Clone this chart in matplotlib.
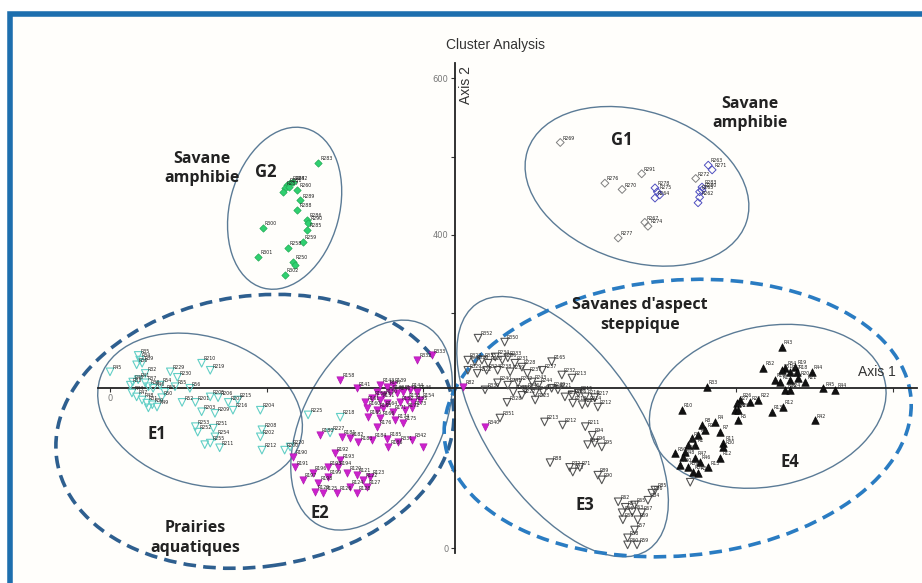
import matplotlib
matplotlib.use("Agg")
import matplotlib.pyplot as plt
from matplotlib.patches import Ellipse, Rectangle

# --- data (axis 1 / axis 2 scores) ---
g2_x = [266, 226, 230, 234, 223, 229, 221, 239, 243, 239, 252, 253, 252, 195, 246, 227, 189, 234, 236, 223]
g2_y = [492, 464, 466, 467, 460, 461, 455, 457, 444, 432, 419, 415, 406, 409, 391, 383, 372, 365, 361, 349]
g2_lab = ["R283", "R281", "R284", "R282", "R287", "", "", "R260", "R289", "R288", "R286",
          "R290", "R285", "R300", "R259", "R258", "R301", "R250", "", "R302"]

g1_x = [575, 679, 632, 654, 696, 699, 696, 702, 748, 764, 769, 756, 753, 753, 751, 756, 683, 687, 649]
g1_y = [518, 478, 466, 458, 460, 455, 447, 451, 472, 489, 483, 461, 455, 448, 441, 457, 416, 411, 396]
g1_lab = ["R269", "R291", "R276", "R270", "R278", "R275", "R264", "", "R272", "R263", "R271",
          "R283", "R265", "R262", "", "R280", "R267", "R274", "R277"]
g1_blue = [False, False, False, False, True, True, True, True, False, True, True,
           True, True, True, True, True, False, False, False]

e1_x = [0, 36, 38, 34, 41, 45, 29, 26, 36, 45, 49, 55, 28, 34, 41, 47, 54, 60, 49, 66, 70, 64, 83, 86,
        77, 92, 102, 117, 128, 109, 117, 128, 138, 151, 134, 109, 112, 132, 134, 128, 121, 140, 157,
        163, 192, 192, 194, 223, 194, 230, 253, 281, 294]
e1_y = [225, 246, 240, 234, 236, 223, 212, 208, 215, 211, 206, 204, 198, 193, 189, 185, 183, 180, 179,
        192, 199, 208, 206, 218, 225, 186, 204, 236, 227, 186, 174, 193, 192, 186, 172, 155, 148, 153,
        142, 134, 132, 128, 176, 189, 176, 142, 151, 125, 125, 129, 170, 147, 167]
e1_lab = ["R45", "R35", "R34", "R36", "R39", "R32", "R40", "R33", "R41", "R37", "R38", "R46",
          "R44", "R47", "R48", "R31", "R30", "R49", "", "R50", "R53", "R54", "R55", "R230",
          "R229", "R52", "R56", "R210", "R219", "R201", "R203", "R205", "R206", "R207", "R209",
          "R253", "R252", "R251", "R254", "R255", "", "R211", "R216", "R215", "R204", "R202",
          "R208", "R200", "R212", "R220", "R225", "R227", "R218"]

e2_x = [392, 411, 294, 315, 345, 354, 361, 341, 349, 358, 366, 374, 383, 392, 326, 335, 345, 354,
        370, 379, 387, 396, 328, 341, 349, 361, 377, 386, 329, 345, 364, 374, 341, 268, 296, 306,
        317, 335, 354, 368, 386, 400, 355, 234, 236, 287, 294, 291, 278, 259, 246, 266, 278, 303,
        315, 323, 332, 306, 272, 290, 328, 315, 262, 451, 479]
e2_y = [240, 246, 215, 204, 208, 206, 208, 199, 195, 199, 198, 199, 202, 199, 186, 192, 189, 185,
        186, 189, 186, 189, 179, 176, 179, 174, 176, 179, 167, 166, 163, 160, 155, 144, 142, 140,
        135, 138, 139, 135, 138, 129, 129, 116, 103, 121, 112, 103, 103, 96, 87, 83, 91, 96, 93,
        87, 91, 78, 70, 70, 78, 70, 72, 206, 155]
e2_lab = ["R332", "R333", "R158", "R141", "R143", "R147", "R139", "", "R150", "R149", "R148",
          "R142", "R144", "R146", "R161", "R156", "R151", "", "R152", "R153", "R155", "R154",
          "R160", "R163", "R164", "R171", "R172", "R173", "R165", "R166", "R174", "R175",
          "R176", "R180", "R181", "R182", "R183", "R184", "R185", "R331", "R342", "", "R186",
          "R190", "R191", "R192", "R193", "R194", "R195", "R196", "R197", "R198", "R199",
          "R120", "R121", "R122", "R123", "R124", "R125", "R126", "R127", "R128", "R129",
          "R82", "R340"]

e3_x = [470, 504, 457, 466, 475, 483, 492, 501, 508, 517, 526, 457, 469, 481, 495, 511, 533, 552,
        564, 577, 590, 479, 495, 508, 521, 539, 547, 515, 530, 543, 553, 564, 572, 507, 526, 543,
        581, 590, 598, 607, 619, 591, 603, 610, 623, 555, 578, 607, 498, 616, 619, 628, 610, 562,
        587, 591, 600, 623, 628, 649, 658, 670, 667, 654, 679, 655, 674, 687, 696, 692, 670, 661,
        673, 661, 741]
e3_y = [268, 263, 240, 238, 240, 236, 244, 240, 243, 236, 231, 227, 223, 227, 227, 225, 223, 227,
        238, 221, 217, 202, 211, 208, 211, 212, 208, 199, 202, 198, 199, 204, 202, 186, 195, 189,
        193, 195, 198, 193, 192, 185, 183, 185, 180, 161, 157, 155, 166, 144, 134, 129, 132, 109,
        103, 97, 103, 93, 87, 59, 52, 55, 46, 45, 45, 36, 36, 61, 74, 70, 23, 13, 4, 4, 84]
e3_lab = ["R352", "R350", "R327", "R326", "R335", "R323", "R234", "R236", "R233", "R231",
          "R228", "R329", "R322", "R324", "R238", "R239", "R237", "R237", "R165", "R232",
          "R213", "R330", "R240", "R241", "R242", "R243", "R244", "R245", "R246", "R247",
          "R248", "R249", "R221", "R328", "R222", "R223", "R224", "R226", "R215", "R216",
          "R217", "R218", "R219", "R214", "R212", "R213", "R212", "R211", "R351", "R94",
          "R96", "R95", "R93", "R88", "R72", "R73", "R71", "R89", "R90", "R62", "R64", "R65",
          "R63", "R66", "R67", "R68", "R69", "R84", "R85", "R86", "R57", "R58", "R59", "R60", ""]

e4_x = [858, 834, 862, 875, 877, 868, 858, 896, 849, 856, 868, 879, 888, 862, 868, 911, 926, 762,
        828, 817, 805, 801, 798, 802, 845, 859, 900, 730, 773, 802, 756, 760, 779, 751, 743, 738,
        747, 783, 783, 722, 734, 732, 747, 753, 779, 764, 728, 738, 744, 751]
e4_y = [257, 230, 230, 231, 225, 225, 227, 225, 215, 212, 215, 217, 212, 202, 202, 204, 202, 206,
        189, 186, 189, 185, 176, 176, 174, 180, 163, 176, 161, 163, 157, 151, 148, 144, 140, 132,
        132, 134, 129, 121, 123, 116, 115, 110, 115, 103, 106, 103, 97, 96]
e4_lab = ["R43", "R52", "R54", "R19", "R18", "R17", "R51", "R44", "R16", "R15", "R14", "R20",
          "R21", "R25", "R24", "R45", "R44", "R33", "R22", "R23", "R26", "R27", "R28", "R29",
          "R13", "R12", "R42", "R10", "R4", "R5", "R8", "R9", "R7", "R6", "R3", "R2", "R1",
          "R11", "R30", "R50", "R49", "R48", "R47", "R46", "R12", "R13", "R40", "R39", "R38", "R37"]

# group ellipses: centre x, centre y, width, height, angle
groups = ["G2", "G1", "E1", "E2", "E3", "E4"]
grp_cx = [223, 673, 115, 334, 578, 840]
grp_cy = [434, 462, 176, 157, 155, 181]
grp_w = [140, 294, 268, 289, 383, 306]
grp_h = [211, 192, 188, 176, 192, 204]
grp_ang = [-15, -18, -18, 62, -55, 12]
grp_lx = [199, 654, 60, 268, 607, 868]
grp_ly = [480, 521, 145, 45, 55, 110]

# outer dashed groups (prairies / savanes)
outer_cx = [185, 725]
outer_cy = [149, 166]
outer_w = [511, 598]
outer_h = [346, 352]
outer_ang = [8, 5]
outer_col = ["#2e5f8f", "#2a7cc2"]

fig = plt.figure(figsize=(9.22, 5.83), dpi=100)
fig.patch.set_facecolor("white")
frame = Rectangle((10 / 922, -0.2), 1.2, 1.2 - 14 / 583, transform=fig.transFigure,
                  facecolor="#fffefb", edgecolor="#1d6fae", lw=4, zorder=-1)
fig.patches.append(frame)

ax = fig.add_axes([0, 0, 1, 1])
ax.set_facecolor("none")
ax.set_zorder(1)
ax.set_xlim(-140.5, 1037)
ax.set_ylim(-44.7, 700)

# axes crossing in the middle
for s in ["top", "right"]:
    ax.spines[s].set_visible(False)
ax.spines["left"].set_position(("data", 441))
ax.spines["bottom"].set_position(("data", 205))
ax.spines["left"].set_bounds(-6, 620)
ax.spines["bottom"].set_bounds(-15, 1030)
for s in ["left", "bottom"]:
    ax.spines[s].set_linewidth(1.3)
    ax.spines[s].set_color("#222222")

ax.set_yticks([0, 100, 200, 300, 400, 500, 600])
ax.set_yticklabels(["0", "", "", "", "400", "", "600"])
ax.set_xticks([0, 200, 400, 600, 800, 1000])
ax.set_xticklabels(["0", "", "", "", "", ""])
ax.tick_params(axis="both", direction="out", length=3, width=0.8, color="#333333",
               labelsize=6, labelcolor="#777777", pad=2)

# ellipses
for cx, cy, w, h, a in zip(grp_cx, grp_cy, grp_w, grp_h, grp_ang):
    ax.add_patch(Ellipse((cx, cy), w, h, angle=a, fill=False, ec="#5b7b96", lw=1.0, zorder=2))

for cx, cy, w, h, a, c in zip(outer_cx, outer_cy, outer_w, outer_h, outer_ang, outer_col):
    ax.add_patch(Ellipse((cx, cy), w, h, angle=a, fill=False, ec=c, lw=2.6,
                         ls=(0, (3.5, 2)), zorder=2))

# points
ax.scatter(g2_x, g2_y, marker="D", s=14, c="#2fd070", edgecolors="#22aa55", lw=0.5, zorder=3)
ax.scatter(g1_x, g1_y, marker="D", s=16, facecolors="none",
           edgecolors=["#5050c0" if b else "#808080" for b in g1_blue], lw=0.7, zorder=3)
ax.scatter(e1_x, e1_y, marker="v", s=30, facecolors="none", edgecolors="#62cfc6", lw=0.8, zorder=3)
ax.scatter(e2_x, e2_y, marker="v", s=28, c="#cc22cc", edgecolors="#aa10aa", lw=0.4, zorder=3)
ax.scatter(e3_x, e3_y, marker="v", s=30, facecolors="none", edgecolors="#555555", lw=0.8, zorder=3)
ax.scatter(e4_x, e4_y, marker="^", s=30, c="#111111", edgecolors="#000000", lw=0.4, zorder=3)

# point labels
for xs, ys, labs in [(g2_x, g2_y, g2_lab), (g1_x, g1_y, g1_lab), (e1_x, e1_y, e1_lab),
                     (e2_x, e2_y, e2_lab), (e3_x, e3_y, e3_lab), (e4_x, e4_y, e4_lab)]:
    for x, y, t in zip(xs, ys, labs):
        if t:
            ax.annotate(t, (x, y), xytext=(1.5, 2), textcoords="offset points",
                        fontsize=3.4, color="#222222", zorder=4)

# group names
for name, x, y in zip(groups, grp_lx, grp_ly):
    ax.text(x, y, name, fontsize=12, fontweight="bold", family="Open Sans",
            ha="center", va="center", color="#222222", zorder=5)

big = dict(fontsize=11.5, fontweight="bold", family="Open Sans", ha="center", va="center",
           color="#222222", zorder=5, linespacing=1.3)
ax.text(117, 485, "Savane\namphibie", **big)
ax.text(817, 555, "Savane\namphibie", **big)
ax.text(677, 298, "Savanes d'aspect\nsteppique", **big)
ax.text(109, 13, "Prairies\naquatiques", **big)

ax.text(492, 642, "Cluster Analysis", fontsize=10, family="Liberation Sans",
        ha="center", va="center", color="#333333")
ax.text(979, 225, "Axis 1", fontsize=10, family="Liberation Sans", ha="center", va="center",
        color="#333333")
ax.text(455, 591, "Axis 2", fontsize=10, family="Liberation Sans", ha="center", va="center",
        rotation=90, color="#333333")

plt.savefig("out.png", dpi=100)
